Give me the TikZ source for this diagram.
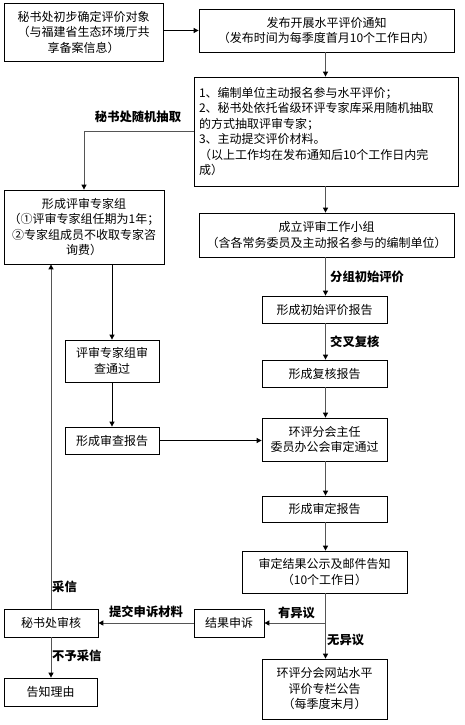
\documentclass[tikz,border=0pt]{standalone}
\usepackage{fontspec}
\setmainfont{Noto Sans CJK SC}
\usetikzlibrary{arrows.meta,calc}
\definecolor{lngray}{HTML}{555555}
\tikzset{
  box/.style={draw=black, line width=0.8pt, inner sep=0pt, align=center,
    font=\fontsize{12pt}{15.5pt}\selectfont},
  lbl/.style={font=\fontsize{12.3pt}{14pt}\selectfont\bfseries, inner sep=0pt},
  arrgray/.style={draw=lngray, line width=1pt, -{Triangle[length=5pt,width=5pt,fill=black,color=black]}},
  arrblack/.style={draw=black, line width=0.9pt, -{Triangle[length=5pt,width=5pt,fill=black]}},
  lngrayline/.style={draw=lngray, line width=1pt}
}
\begin{document}
\begin{tikzpicture}[x=1pt,y=-1pt]
\useasboundingbox (0,0) rectangle (464,725);
% boxes
\node[box, minimum width=159pt, minimum height=58pt] (A) at (83.5,32) {秘书处初步确定评价对象\\（与福建省生态环境厅共\\享备案信息）};
\node[box, minimum width=255pt, minimum height=43pt] (B) at (326.5,30.5) {发布开展水平评价通知\\（发布时间为每季度首月10个工作日内）};
\node[box, minimum width=264pt, minimum height=109pt, text width=254pt, align=left] (C) at (326,131.5) {1、编制单位主动报名参与水平评价；\\2、秘书处依托省级环评专家库采用随机抽取\\的方式抽取评审专家；\\3、主动提交评价材料。\\（以上工作均在发布通知后10个工作日内完\\成）};
\node[box, minimum width=160pt, minimum height=74pt] (D) at (84,227) {形成评审专家组\\（①评审专家组任期为1年；\\②专家组成员不收取专家咨\\询费）};
\node[box, minimum width=255pt, minimum height=44pt] (E) at (326.5,235) {成立评审工作小组\\（含各常务委员及主动报名参与的编制单位）};
\node[box, minimum width=125pt, minimum height=27pt] (F) at (324.5,309.5) {形成初始评价报告};
\node[box, minimum width=125pt, minimum height=27pt] (G) at (324.5,373.5) {形成复核报告};
\node[box, minimum width=125pt, minimum height=43pt] (H) at (324.5,439.5) {环评分会主任\\委员办公会审定通过};
\node[box, minimum width=125pt, minimum height=26pt] (I) at (324.5,509) {形成审定报告};
\node[box, minimum width=165pt, minimum height=42pt] (J) at (324.5,572) {审定结果公示及邮件告知\\（10个工作日）};
\node[box, minimum width=70pt, minimum height=28pt] (K) at (229,623) {结果申诉};
\node[box, minimum width=125pt, minimum height=60pt] (L) at (324.5,689) {环评分会网站水平\\评价专栏公告\\（每季度末月）};
\node[box, minimum width=94pt, minimum height=28pt] (M) at (51,623) {秘书处审核};
\node[box, minimum width=93pt, minimum height=28pt] (N) at (50.5,692) {告知理由};
\node[box, minimum width=94pt, minimum height=42pt] (O) at (112,361) {评审专家组审\\查通过};
\node[box, minimum width=94pt, minimum height=27pt] (P) at (112,440.5) {形成审查报告};
% coordinates
\coordinate (xr) at (325.5,0);
\coordinate (br) at (325.5,623);
% connectors
\draw[arrblack] (A.east |- B.west) -- (B.west);
\draw[arrgray] (B.south -| xr) -- (C.north -| xr);
\draw[arrgray] (C.south -| xr) -- (E.north -| xr);
\draw[arrgray] (E.south -| xr) -- (F.north -| xr);
\draw[arrgray] (F.south -| xr) -- (G.north -| xr);
\draw[arrgray] (G.south -| xr) -- (H.north -| xr);
\draw[arrgray] (H.south -| xr) -- (I.north -| xr);
\draw[arrgray] (I.south -| xr) -- (J.north -| xr);
\draw[lngrayline] (J.south -| xr) -- (br);
\draw[arrgray] (br) -- (K.east);
\draw[arrgray] (br) -- (L.north -| xr);
\draw[arrgray] (K.west) -- (M.east);
\draw[arrgray] (C.west) -| (D.north);
\draw[arrblack] (O.north |- D.south) -- (O.north);
\draw[arrblack] (O.south) -- (P.north);
\draw[arrblack] (P.east) -- (P.east -| H.west);
\draw[arrgray] (M.north) -- (M.north |- D.south);
\draw[arrgray] (M.south) -- (M.south |- N.north);
% labels
\node[lbl] (l1) at (138,117) {秘书处随机抽取};
\node[lbl, anchor=west] (l2) at (330,277) {分组初始评价};
\node[lbl, anchor=west] (l3) at (330,342) {交叉复核};
\node[lbl] (l4) at (296.5,613) {有异议};
\node[lbl, anchor=west] (l5) at (327,640) {无异议};
\node[lbl] (l6) at (146,612) {提交申诉材料};
\node[lbl, anchor=west] (l7) at (52,587) {采信};
\node[lbl, anchor=west] (l8) at (52,656) {不予采信};
\end{tikzpicture}
\end{document}
